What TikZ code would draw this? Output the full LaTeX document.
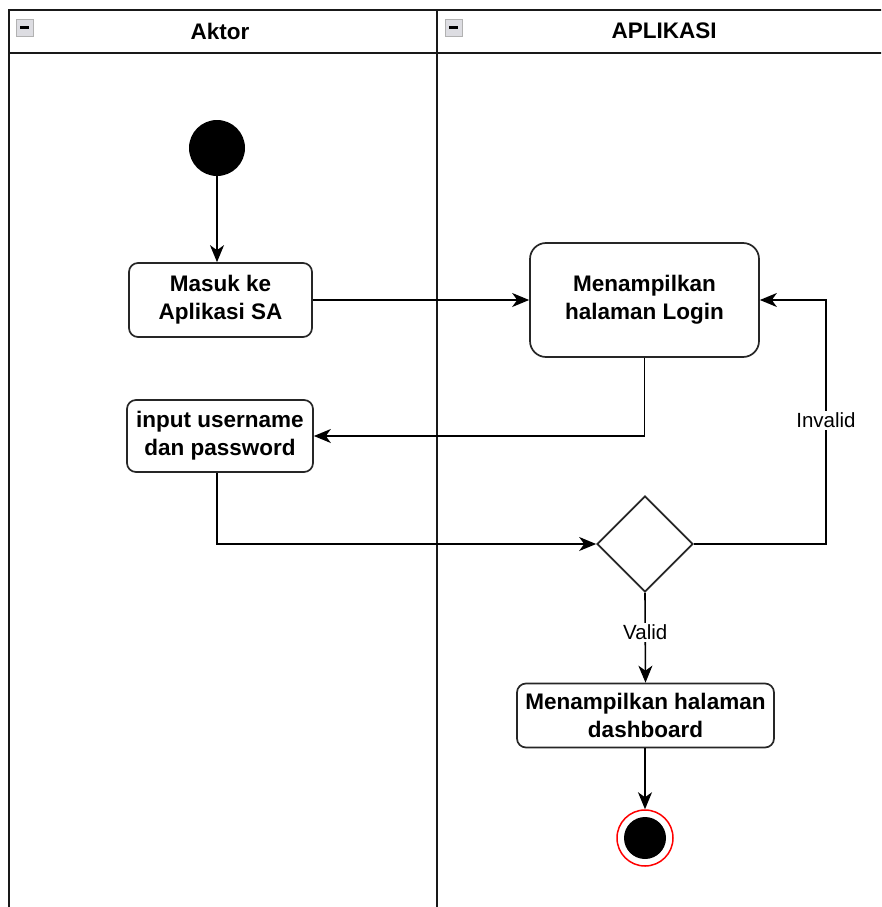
\documentclass[tikz,border=0pt]{standalone}
\usepackage{fontspec}
\setmainfont{Liberation Sans}
\usetikzlibrary{arrows.meta,shapes.geometric}

\tikzset{
  act/.style={draw=black!85, line width=1.7pt, rounded corners=9pt, fill=white, align=center,
    font=\bfseries\fontsize{22.5}{28}\selectfont, inner sep=0pt},
  flow/.style={line width=1.6pt, -{Stealth[length=17pt,width=14pt,inset=5pt]}},
  guard/.style={fill=white, font=\fontsize{20.5}{24}\selectfont, inner sep=2pt},
  lane/.style={line width=2pt, draw=black!90},
  fold/.style={draw=gray!60, fill=blue!8!gray!25, line width=0.8pt},
}

\begin{document}
\begin{tikzpicture}[x=1pt, y=-1pt]
            \useasboundingbox (0, 0) rectangle (881, 907);
            \fill[white] (0, 0) rectangle (881, 907);
            \begin{scope}
                \clip (0, 0) rectangle (881, 907);
                % swimlanes
                \draw[lane] (9, 10) rectangle (437, 930);
                \draw[lane] (437, 10) rectangle (900, 930);
                \draw[lane] (9, 53) -- (900, 53);
                \foreach \x in {16, 445} {
                    \draw[fold] (\x, 19) rectangle ++(17, 17);
                    \draw[line width=2.2pt] (\x+4, 27.5) -- ++(9, 0);
                }
                \node[font=\bfseries\fontsize{22.5}{26}\selectfont] (aktor) at (220, 31) {Aktor};
                \node[font=\bfseries\fontsize{22.5}{26}\selectfont] (apl) at (664, 31) {APLIKASI};
            \end{scope}
            % nodes
            \node[circle, fill=black, minimum size=56pt, inner sep=0pt] (start) at (217, 148) {};
            \node[act, minimum width=183pt, minimum height=74pt] (masuk) at (220.5, 300) {Masuk ke\\Aplikasi SA};
            \node[act, rounded corners=16pt, minimum width=229pt, minimum height=114pt] (login) at (644.5, 300) {Menampilkan\\halaman Login};
            \node[act, minimum width=186pt, minimum height=72pt] (input) at (220, 436) {input username\\dan password};
            \node[diamond, draw=black!85, line width=1.7pt, minimum width=96pt, minimum height=96pt, inner sep=0pt] (cek) at (645, 544) {};
            \node[act, minimum width=257pt, minimum height=64pt] (dash) at (645.5, 715.5) {Menampilkan halaman\\dashboard};
            \node[circle, draw=red, line width=1.5pt, minimum size=56pt, inner sep=0pt] (end) at (645, 838) {};
            \fill[black] (end.center) circle (21);
            \coordinate (loop) at (826, 544);
            % flows
            \draw[flow] (start) -- (start |- masuk.north);
            \draw[flow] (masuk) -- (login);
            \draw[flow] (login.south) |- (input.east);
            \draw[flow] (start |- input.south) |- (cek.west);
            \draw[flow] (cek.east) -- (loop) |- (login.east) node[guard, pos=0.254] {Invalid};
            \draw[flow] (cek.south) -- (dash.north) node[guard, pos=0.44] {Valid};
            \draw[flow] (end |- dash.south) -- (end);
        \end{tikzpicture}
\end{document}
